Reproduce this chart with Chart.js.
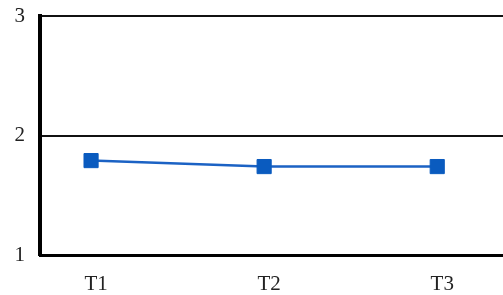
<!DOCTYPE html>
<html>
<head>
<meta charset="utf-8">
<script src="https://cdn.jsdelivr.net/npm/chart.js@4"></script>
<style>
  html, body { margin: 0; padding: 0; background: #fff; overflow: hidden; }
  #c { display: block; }
</style>
</head>
<body>
<canvas id="c" width="503" height="295"></canvas>
<script>
    "use strict";

    // chart data
    const categories = ["T1", "T2", "T3"];
    const values = [1.79, 1.74, 1.74];
    const yTicks = [1, 2, 3];

    const points = values.map(function (v, i) {
        return { x: i + 1, y: v };
    });

    const ctx = document.getElementById("c").getContext("2d");

    new Chart(ctx, {
        type: "line",
        data: {
            datasets: [
                {
                    data: points,
                    borderColor: "#1b62c4",
                    backgroundColor: "#0a5bbf",
                    borderWidth: 2.5,
                    pointStyle: "rect",
                    pointRadius: 10,
                    pointBorderWidth: 1,
                    pointBorderColor: "#0a5bbf",
                    tension: 0,
                },
            ],
        },
        options: {
            animation: false,
            responsive: false,
            devicePixelRatio: 1,
            layout: {
                autoPadding: false,
                padding: { top: 16, right: 0, left: 0, bottom: 0 },
            },
            plugins: {
                legend: { display: false },
                tooltip: { enabled: false },
            },
            scales: {
                x: {
                    type: "linear",
                    min: 0.705,
                    max: 3.38,
                    afterBuildTicks: function (axis) {
                        axis.ticks = categories.map(function (c, i) {
                            return { value: i + 1 };
                        });
                    },
                    afterFit: function (axis) {
                        axis.height = 40;
                        axis.paddingLeft = 0;
                        axis.paddingRight = 0;
                    },
                    grid: { display: false, drawTicks: false },
                    border: { display: true, color: "#000", width: 3 },
                    ticks: {
                        padding: 17,
                        labelOffset: 5,
                        color: "#222",
                        font: { family: "Liberation Serif", size: 21 },
                        callback: function (value) {
                            return categories[value - 1];
                        },
                    },
                },
                y: {
                    min: 1,
                    max: 3,
                    afterBuildTicks: function (axis) {
                        axis.ticks = yTicks.map(function (v) {
                            return { value: v };
                        });
                    },
                    afterFit: function (axis) {
                        axis.width = 40;
                        axis.paddingTop = 0;
                        axis.paddingBottom = 0;
                    },
                    grid: {
                        color: "#111",
                        lineWidth: 2,
                        drawTicks: false,
                    },
                    border: { display: true, color: "#000", width: 4 },
                    ticks: {
                        padding: 15,
                        color: "#222",
                        font: { family: "Liberation Serif", size: 21 },
                    },
                },
            },
        },
    });
</script>
</body>
</html>
